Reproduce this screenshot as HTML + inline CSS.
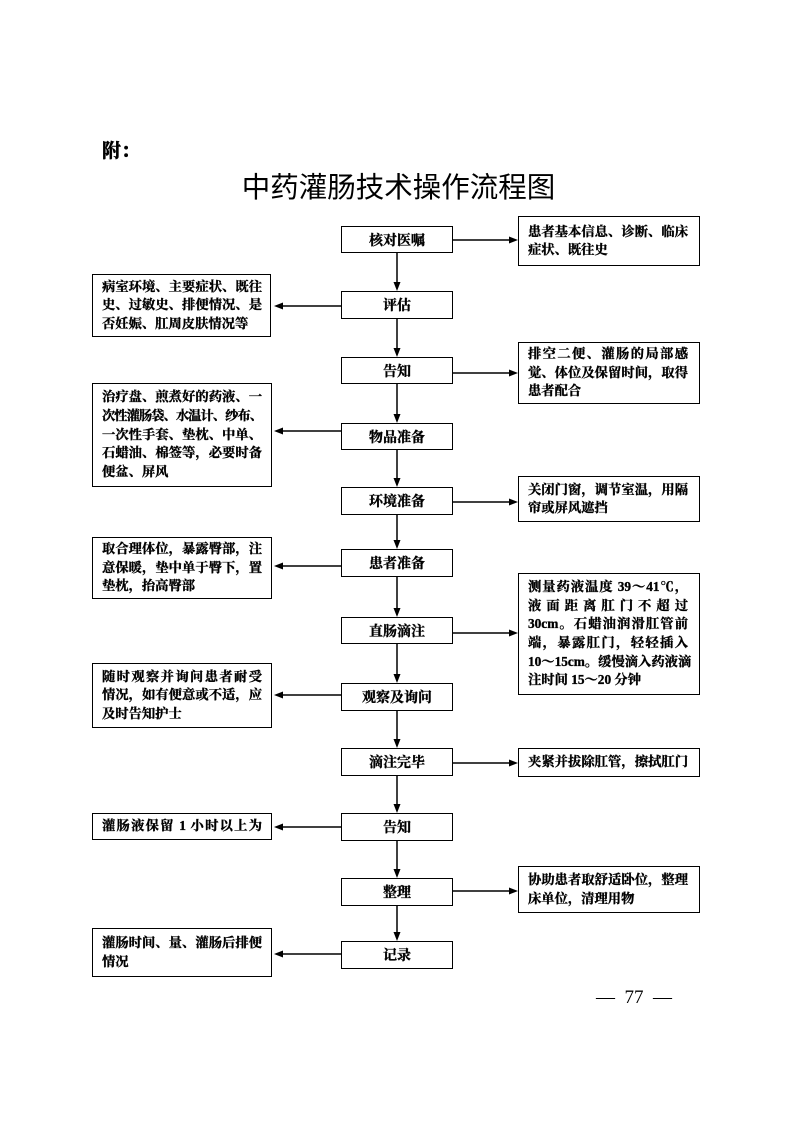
<!DOCTYPE html>
<html><head><meta charset="utf-8">
<style>
html,body{margin:0;padding:0;background:#fff;}
body{width:793px;height:1122px;position:relative;overflow:hidden;}
.t{font-family:"Liberation Serif","Noto Serif CJK SC",serif;font-weight:bold;color:#000;-webkit-text-stroke:0.35px #000;}
.box{position:absolute;box-sizing:border-box;border:1.5px solid #000;background:#fff;}
.c{display:flex;align-items:center;justify-content:center;font-size:14px;}
.s{display:flex;flex-direction:column;justify-content:center;padding-left:9px;font-size:13.3px;line-height:18.4px;}
.s div{width:160px;white-space:nowrap;text-align:justify;text-align-last:justify;}
.s div.l{text-align-last:left;}
.n{letter-spacing:-1px;}
#title{position:absolute;left:0;width:797px;top:170px;text-align:center;font-family:"Liberation Sans","Noto Sans CJK SC",sans-serif;font-size:28.5px;line-height:36px;font-weight:normal;}
#fu{position:absolute;left:102px;top:139px;font-size:19px;line-height:26px;font-family:"Liberation Serif","Noto Serif CJK SC",serif;font-weight:bold;-webkit-text-stroke:0.5px #000;}
#pg{position:absolute;left:584px;top:986px;width:100px;text-align:center;font-family:"Liberation Serif","Noto Serif CJK SC",serif;font-size:19px;line-height:24px;white-space:pre;}
svg{position:absolute;left:0;top:0;}
</style></head><body>
<div id="fu">附：</div>
<div id="title">中药灌肠技术操作流程图</div>

<svg width="793" height="1122" viewBox="0 0 793 1122">
<g stroke="#000" stroke-width="1.5" fill="none">
<line x1="397" y1="253" x2="397" y2="283"/>
<line x1="397" y1="319" x2="397" y2="349"/>
<line x1="397" y1="384" x2="397" y2="415"/>
<line x1="397" y1="450" x2="397" y2="479"/>
<line x1="397" y1="515" x2="397" y2="541"/>
<line x1="397" y1="577" x2="397" y2="609"/>
<line x1="397" y1="644" x2="397" y2="675"/>
<line x1="397" y1="711" x2="397" y2="740"/>
<line x1="397" y1="776" x2="397" y2="805"/>
<line x1="397" y1="841" x2="397" y2="870"/>
<line x1="397" y1="906" x2="397" y2="933"/>
<line x1="453" y1="240" x2="510" y2="240"/>
<line x1="453" y1="373" x2="510" y2="373"/>
<line x1="453" y1="502" x2="510" y2="502"/>
<line x1="453" y1="633" x2="510" y2="633"/>
<line x1="453" y1="763" x2="510" y2="763"/>
<line x1="453" y1="891" x2="510" y2="891"/>
<line x1="341" y1="306" x2="282" y2="306"/>
<line x1="341" y1="431" x2="282" y2="431"/>
<line x1="341" y1="566" x2="282" y2="566"/>
<line x1="341" y1="695" x2="282" y2="695"/>
<line x1="341" y1="827" x2="282" y2="827"/>
<line x1="341" y1="954" x2="282" y2="954"/>
</g>
<g fill="#000">
<polygon points="393.5,282 400.5,282 397,291"/>
<polygon points="393.5,348 400.5,348 397,357"/>
<polygon points="393.5,414 400.5,414 397,423"/>
<polygon points="393.5,478 400.5,478 397,487"/>
<polygon points="393.5,540 400.5,540 397,549"/>
<polygon points="393.5,608 400.5,608 397,617"/>
<polygon points="393.5,674 400.5,674 397,683"/>
<polygon points="393.5,739 400.5,739 397,748"/>
<polygon points="393.5,804 400.5,804 397,813"/>
<polygon points="393.5,869 400.5,869 397,878"/>
<polygon points="393.5,932 400.5,932 397,941"/>
<polygon points="509,236.5 509,243.5 518,240"/>
<polygon points="509,369.5 509,376.5 518,373"/>
<polygon points="509,498.5 509,505.5 518,502"/>
<polygon points="509,629.5 509,636.5 518,633"/>
<polygon points="509,759.5 509,766.5 518,763"/>
<polygon points="509,887.5 509,894.5 518,891"/>
<polygon points="283,302.5 283,309.5 274,306"/>
<polygon points="283,427.5 283,434.5 274,431"/>
<polygon points="283,562.5 283,569.5 274,566"/>
<polygon points="283,691.5 283,698.5 274,695"/>
<polygon points="283,823.5 283,830.5 274,827"/>
<polygon points="283,950.5 283,957.5 274,954"/>
</g>
</svg>

<!-- center column -->
<div class="box c t" style="left:341px;top:226px;width:112px;height:27px;">核对医嘱</div>
<div class="box c t" style="left:341px;top:291px;width:112px;height:28px;">评估</div>
<div class="box c t" style="left:341px;top:357px;width:112px;height:27px;">告知</div>
<div class="box c t" style="left:341px;top:423px;width:112px;height:27px;">物品准备</div>
<div class="box c t" style="left:341px;top:487px;width:112px;height:28px;">环境准备</div>
<div class="box c t" style="left:341px;top:549px;width:112px;height:28px;">患者准备</div>
<div class="box c t" style="left:341px;top:617px;width:112px;height:27px;">直肠滴注</div>
<div class="box c t" style="left:341px;top:683px;width:112px;height:28px;">观察及询问</div>
<div class="box c t" style="left:341px;top:748px;width:112px;height:28px;">滴注完毕</div>
<div class="box c t" style="left:341px;top:813px;width:112px;height:28px;">告知</div>
<div class="box c t" style="left:341px;top:878px;width:112px;height:28px;">整理</div>
<div class="box c t" style="left:341px;top:941px;width:112px;height:28px;">记录</div>

<!-- right column -->
<div class="box s t" style="left:518px;top:216px;width:182px;height:50px;">
<div>患者基本信息、诊断、临床</div><div class="l">症状、既往史</div></div>
<div class="box s t" style="left:518px;top:342px;width:182px;height:62px;">
<div>排空二便、灌肠的局部感</div><div>觉、体位及保留时间，取得</div><div class="l">患者配合</div></div>
<div class="box s t" style="left:518px;top:476px;width:182px;height:46px;">
<div>关闭门窗，调节室温，用隔</div><div class="l">帘或屏风遮挡</div></div>
<div class="box s t" style="left:518px;top:573px;width:182px;height:122px;line-height:18.6px;">
<div>测量药液温度 39～41℃，</div><div>液面距离肛门不超过</div><div>30cm。石蜡油润滑肛管前</div><div>端，暴露肛门，轻轻插入</div><div>10～15cm。缓慢滴入药液滴</div><div class="l">注时间 15～20 分钟</div></div>
<div class="box s t" style="left:518px;top:748px;width:182px;height:29px;">
<div>夹紧并拔除肛管，擦拭肛门</div></div>
<div class="box s t" style="left:518px;top:866px;width:182px;height:47px;">
<div>协助患者取舒适卧位，整理</div><div class="l">床单位，清理用物</div></div>

<!-- left column -->
<div class="box s t" style="left:92px;top:274px;width:179px;height:63px;">
<div>病室环境、主要症状、既往</div><div>史、过敏史、排便情况、是</div><div class="l">否妊娠、肛周皮肤情况等</div></div>
<div class="box s t" style="left:92px;top:383px;width:180px;height:104px;line-height:18.7px;">
<div>治疗盘、煎煮好的药液、一</div><div class="n">次性灌肠袋、水温计、纱布、</div><div>一次性手套、垫枕、中单、</div><div>石蜡油、棉签等，必要时备</div><div class="l">便盆、屏风</div></div>
<div class="box s t" style="left:92px;top:537px;width:180px;height:62px;">
<div>取合理体位，暴露臀部，注</div><div>意保暖，垫中单于臀下，置</div><div class="l">垫枕，抬高臀部</div></div>
<div class="box s t" style="left:92px;top:663px;width:180px;height:65px;">
<div>随时观察并询问患者耐受</div><div>情况，如有便意或不适，应</div><div class="l">及时告知护士</div></div>
<div class="box s t" style="left:92px;top:813px;width:180px;height:27px;">
<div>灌肠液保留 1 小时以上为</div></div>
<div class="box s t" style="left:92px;top:928px;width:180px;height:49px;">
<div>灌肠时间、量、灌肠后排便</div><div class="l">情况</div></div>

<div id="pg">—  77  —</div>
</body></html>
